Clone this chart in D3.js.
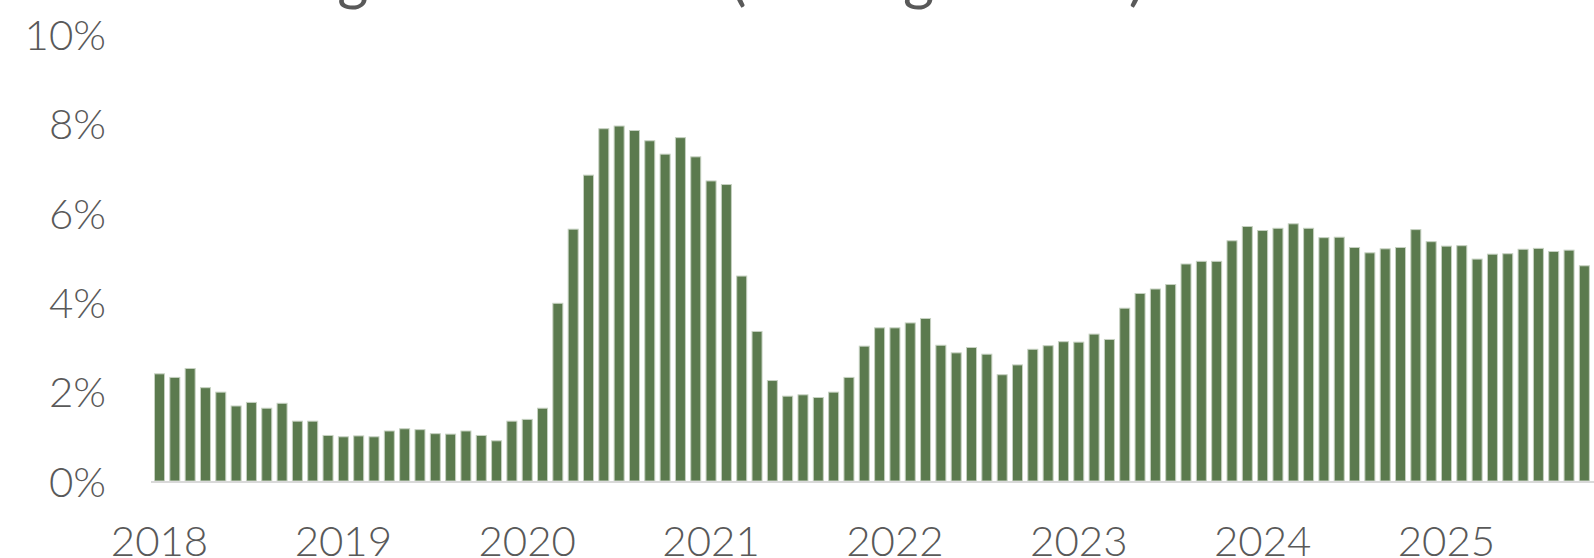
<!DOCTYPE html>
<html>
<head>
<meta charset="utf-8">
<script src="https://cdn.jsdelivr.net/npm/d3@7/dist/d3.min.js"></script>
<style>
  html, body { margin: 0; padding: 0; background: #ffffff; }
  svg { display: block; }
  text { font-family: "Lato", "Open Sans", sans-serif; font-weight: 300; fill: #595959; }
</style>
</head>
<body>
<div id="chart"></div>
<script>
// Monthly rate, January 2018 through November 2025 (percent)
const years = [2018, 2019, 2020, 2021, 2022, 2023, 2024, 2025];
const monthNames = ["Jan", "Feb", "Mar", "Apr", "May", "Jun", "Jul", "Aug", "Sep", "Oct", "Nov", "Dec"];

const rate2018 = [2.40, 2.32, 2.52, 2.09, 1.99, 1.68, 1.76, 1.63, 1.74, 1.34, 1.34, 1.02];
const rate2019 = [0.99, 1.01, 0.99, 1.12, 1.17, 1.15, 1.06, 1.05, 1.12, 1.02, 0.90, 1.34];
const rate2020 = [1.38, 1.63, 3.98, 5.64, 6.85, 7.89, 7.95, 7.85, 7.62, 7.32, 7.69, 7.26];
const rate2021 = [6.72, 6.64, 4.59, 3.35, 2.25, 1.90, 1.93, 1.87, 1.99, 2.32, 3.02, 3.43];
const rate2022 = [3.43, 3.54, 3.64, 3.04, 2.87, 2.99, 2.84, 2.38, 2.60, 2.95, 3.03, 3.12];
const rate2023 = [3.11, 3.29, 3.17, 3.87, 4.20, 4.30, 4.40, 4.86, 4.92, 4.92, 5.38, 5.70];
const rate2024 = [5.61, 5.66, 5.76, 5.66, 5.45, 5.46, 5.23, 5.11, 5.20, 5.23, 5.63, 5.36];
const rate2025 = [5.26, 5.27, 4.97, 5.08, 5.09, 5.19, 5.21, 5.14, 5.17, 4.82, 4.48];

const yTicks = [0, 2, 4, 6, 8, 10];
const titleText = "Lending Default Rate (Trailing 3 Mos.)";

const ratesByYear = [rate2018, rate2019, rate2020, rate2021, rate2022, rate2023, rate2024, rate2025];
const data = [];
ratesByYear.forEach((vals, yi) => {
  vals.forEach((v, mi) => {
    data.push({ key: years[yi] + "-" + monthNames[mi], year: years[yi], month: mi, value: v });
  });
});

const width = 1594, height = 558;
const svg = d3.select("#chart").append("svg")
  .attr("width", width)
  .attr("height", height);

const step = 15.32;
const x = d3.scaleBand()
  .domain(data.map(d => d.key))
  .range([151.9, 151.9 + step * data.length])
  .paddingInner(0.347)
  .paddingOuter(0.17);

const y = d3.scaleLinear()
  .domain([0, 10])
  .range([481, 34.5]);

// Title (runs above the top edge, only its descenders show)
svg.append("text")
  .attr("x", 162)
  .attr("y", -1)
  .attr("font-size", 60)
  .style("font-weight", 400)
  .text(titleText);

// Bars
svg.append("g")
  .selectAll("rect")
  .data(data)
  .join("rect")
  .attr("x", d => x(d.key))
  .attr("y", d => y(d.value))
  .attr("width", x.bandwidth())
  .attr("height", d => y(0) - y(d.value))
  .attr("fill", "#5b7a4e")
  .attr("stroke", "#c6d1c1")
  .attr("stroke-width", 1);

// Baseline
svg.append("line")
  .attr("x1", 151)
  .attr("x2", width)
  .attr("y1", y(0) + 1)
  .attr("y2", y(0) + 1)
  .attr("stroke", "#d9d9d9")
  .attr("stroke-width", 2);

// Y axis labels
const yAxis = d3.axisLeft(y)
  .tickValues(yTicks)
  .tickFormat(d => d + "%")
  .tickSize(0)
  .tickPadding(0);

const yg = svg.append("g")
  .attr("transform", "translate(106,0)")
  .call(yAxis);
yg.select(".domain").remove();
yg.selectAll("text")
  .attr("font-size", 42)
  .attr("fill", "#595959")
  .attr("dy", "0.36em")
  .style("font-family", "Lato, 'Open Sans', sans-serif")
  .style("font-weight", 300);

// X axis labels at each January
const xAxis = d3.axisBottom(x)
  .tickValues(years.map(yr => yr + "-Jan"))
  .tickFormat(k => k.slice(0, 4))
  .tickSize(0)
  .tickPadding(0);

const xg = svg.append("g")
  .attr("transform", "translate(0,556)")
  .call(xAxis);
xg.select(".domain").remove();
xg.selectAll("text")
  .attr("font-size", 42)
  .attr("fill", "#595959")
  .attr("dy", 0)
  .attr("y", 0)
  .style("font-family", "Lato, 'Open Sans', sans-serif")
  .style("font-weight", 300);
</script>
</body>
</html>
